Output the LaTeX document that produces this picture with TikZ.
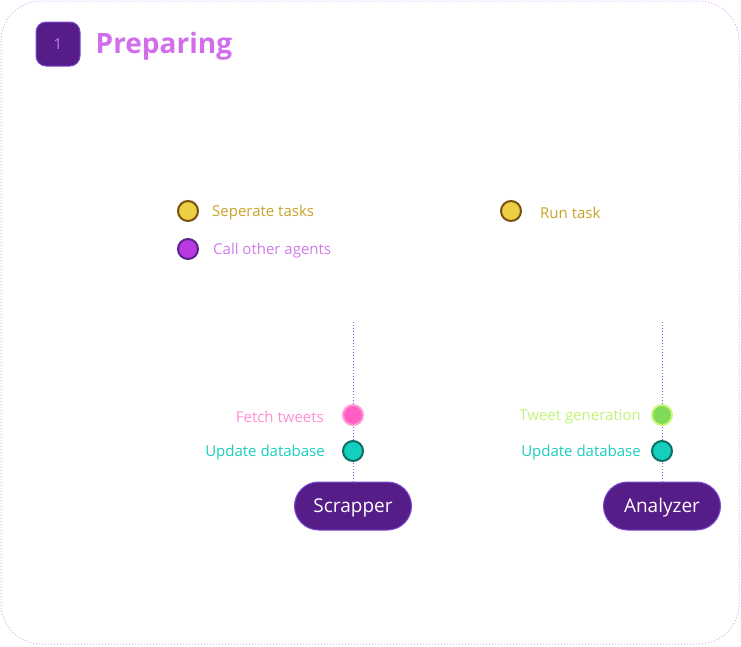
\documentclass[tikz,border=0pt]{standalone}
\usepackage{fontspec}
\setmainfont{Open Sans}
\usetikzlibrary{positioning}

\definecolor{frame}{HTML}{DFAEF2}
\definecolor{plum}{HTML}{561C87}
\definecolor{plumedge}{HTML}{7A4BD0}
\definecolor{title}{HTML}{D06EEB}
\definecolor{stem}{HTML}{7B5BD6}
\definecolor{yelfill}{HTML}{ECCF45}
\definecolor{yeledge}{HTML}{7A5010}
\definecolor{yeltext}{HTML}{C9A227}
\definecolor{purfill}{HTML}{B83AE0}
\definecolor{puredge}{HTML}{5A238E}
\definecolor{purtext}{HTML}{D27BEA}
\definecolor{pinkfill}{HTML}{FF5FC4}
\definecolor{pinkedge}{HTML}{FF9AD8}
\definecolor{pinktext}{HTML}{FF8ED3}
\definecolor{tealfill}{HTML}{14CFBE}
\definecolor{tealedge}{HTML}{0C6E64}
\definecolor{tealtext}{HTML}{19CDBD}
\definecolor{grnfill}{HTML}{80D957}
\definecolor{grnedge}{HTML}{C8F77C}
\definecolor{grntext}{HTML}{C2F27A}

\tikzset{
	dot/.style={circle,minimum size=20pt,inner sep=0pt,line width=2pt},
	lbl/.style={inner sep=0pt,yshift=-1.5pt,font=\fontsize{15}{17}\selectfont},
	agentbox/.style={rectangle,rounded corners=24pt,minimum width=117pt,minimum height=48pt,
		text height=14pt,text depth=2pt,
		fill=plum,draw=plumedge,line width=1pt,text=white,font=\fontsize{19}{21}\selectfont},
	stemline/.style={stem,dotted,line width=1pt}
}

\begin{document}
\begin{tikzpicture}[x=1pt,y=-1pt]
	\useasboundingbox (0,0) rectangle (741,646);
	\draw[frame,dotted,line width=1pt,rounded corners=40pt] (1,1) rectangle (739,644);

	% heading
	\node[rectangle,rounded corners=10pt,minimum size=44pt,fill=plum,draw=plumedge,line width=1pt,
		text=purtext,font=\fontsize{15}{17}\selectfont] (num) at (58,44) {1};
	\node[right=15pt of num,inner sep=0pt,yshift=-2pt,text=title,font=\fontsize{28}{30}\selectfont\bfseries] (head) {Preparing};

	% legend
	\node[dot,fill=yelfill,draw=yeledge] (sep) at (188,211) {};
	\node[lbl,right=13pt of sep,text=yeltext] (septxt) {Seperate tasks};
	\node[dot,fill=purfill,draw=puredge] (call) at (188,249) {};
	\node[lbl,right=14pt of call,text=purtext] (calltxt) {Call other agents};
	\node[dot,fill=yelfill,draw=yeledge] (run) at (511,211) {};
	\node[lbl,right=18pt of run,text=yeltext] (runtxt) {Run task};

	% scrapper
	\node[agentbox] (scr) at (353,506) {Scrapper};
	\coordinate (scrtop) at (353,322);
	\draw[stemline] (scrtop) -- (scr.north);
	\node[dot,fill=pinkfill,draw=pinkedge] (fetch) at (353,415) {};
	\node[lbl,left=18pt of fetch,text=pinktext] (fetchtxt) {Fetch tweets};
	\node[dot,fill=tealfill,draw=tealedge] (upd1) at (353,451) {};
	\node[lbl,left=17pt of upd1,text=tealtext] (upd1txt) {Update database};

	% analyzer
	\node[agentbox] (ana) at (662,506) {Analyzer};
	\coordinate (anatop) at (662,322);
	\draw[stemline] (anatop) -- (ana.north);
	\node[dot,fill=grnfill,draw=grnedge] (gen) at (662,415) {};
	\node[lbl,left=10pt of gen,text=grntext] (gentxt) {Tweet generation};
	\node[dot,fill=tealfill,draw=tealedge] (upd2) at (662,451) {};
	\node[lbl,left=10pt of upd2,text=tealtext] (upd2txt) {Update database};
\end{tikzpicture}
\end{document}
